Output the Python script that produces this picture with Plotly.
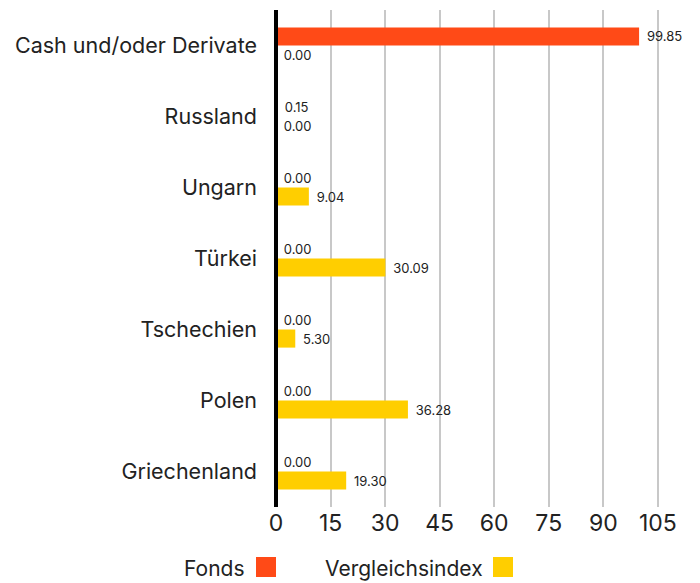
import plotly.graph_objects as go

categories = ["Cash und/oder Derivate", "Russland", "Ungarn", "Türkei",
              "Tschechien", "Polen", "Griechenland"]
fonds = [99.85, 0.15, 0.00, 0.00, 0.00, 0.00, 0.00]
vergleich = [0.00, 0.00, 9.04, 30.09, 5.30, 36.28, 19.30]
tick_vals = [0, 15, 30, 45, 60, 75, 90, 105]
series_names = ["Fonds", "Vergleichsindex"]
colors = ["#FF4A17", "#FFCE00"]

FONT = "Inter, Open Sans, sans-serif"

fig = go.Figure()
for name, vals, col in zip(series_names, [fonds, vergleich], colors):
    fig.add_trace(go.Bar(
        y=categories, x=vals, name=name, orientation="h",
        marker=dict(color=col, line=dict(width=0)),
        texttemplate="\u00a0\u200a%{x:.2f}", textposition="outside",
        textfont=dict(size=13, color="#222222", family=FONT),
        cliponaxis=False, showlegend=False,
    ))

# page body adds an 8px offset, so the figure is drawn 8px smaller
fig.update_layout(
    width=692, height=575,
    margin=dict(l=268, r=24, t=2, b=76),
    plot_bgcolor="white", paper_bgcolor="white",
    barmode="group", bargap=0.49, bargroupgap=0,
    font=dict(family=FONT, color="#222222"),
    xaxis=dict(range=[0, 110], tickvals=tick_vals, showgrid=True,
               gridcolor="#c8c8c8", gridwidth=2, zeroline=False,
               automargin=False,
               tickfont=dict(size=23, color="#222222"), showline=False,
               ticks="", ticklabelstandoff=0),
    yaxis=dict(autorange="reversed", showgrid=False, zeroline=False,
               automargin=False,
               tickfont=dict(size=21.5, color="#222222"), ticks="",
               ticklabelstandoff=18),
)

# thick baseline at the left edge of the plot (x = 0), drawn above the bars
fig.add_shape(type="rect", xref="paper", yref="paper",
              x0=-2 / 400, x1=2 / 400, y0=0, y1=1,
              fillcolor="black", line=dict(width=0), layer="above")

# custom legend: text followed by square (positions in paper fractions of plot area)
legend_items = [("Fonds", colors[0], 247, 256), ("Vergleichsindex", colors[1], 485, 493)]
for label, col, tx, sx in legend_items:
    fig.add_annotation(xref="paper", yref="paper",
                       x=(tx - 276) / 400, y=-(568 - 507) / 497,
                       text=label, showarrow=False, xanchor="right", yanchor="middle",
                       font=dict(size=21, color="#222222", family=FONT))
    fig.add_shape(type="rect", xref="paper", yref="paper",
                  x0=(sx - 276) / 400, x1=(sx + 20 - 276) / 400,
                  y0=-(577 - 507) / 497, y1=-(557 - 507) / 497,
                  fillcolor=col, line=dict(width=0))

fig.write_html("out.html")
